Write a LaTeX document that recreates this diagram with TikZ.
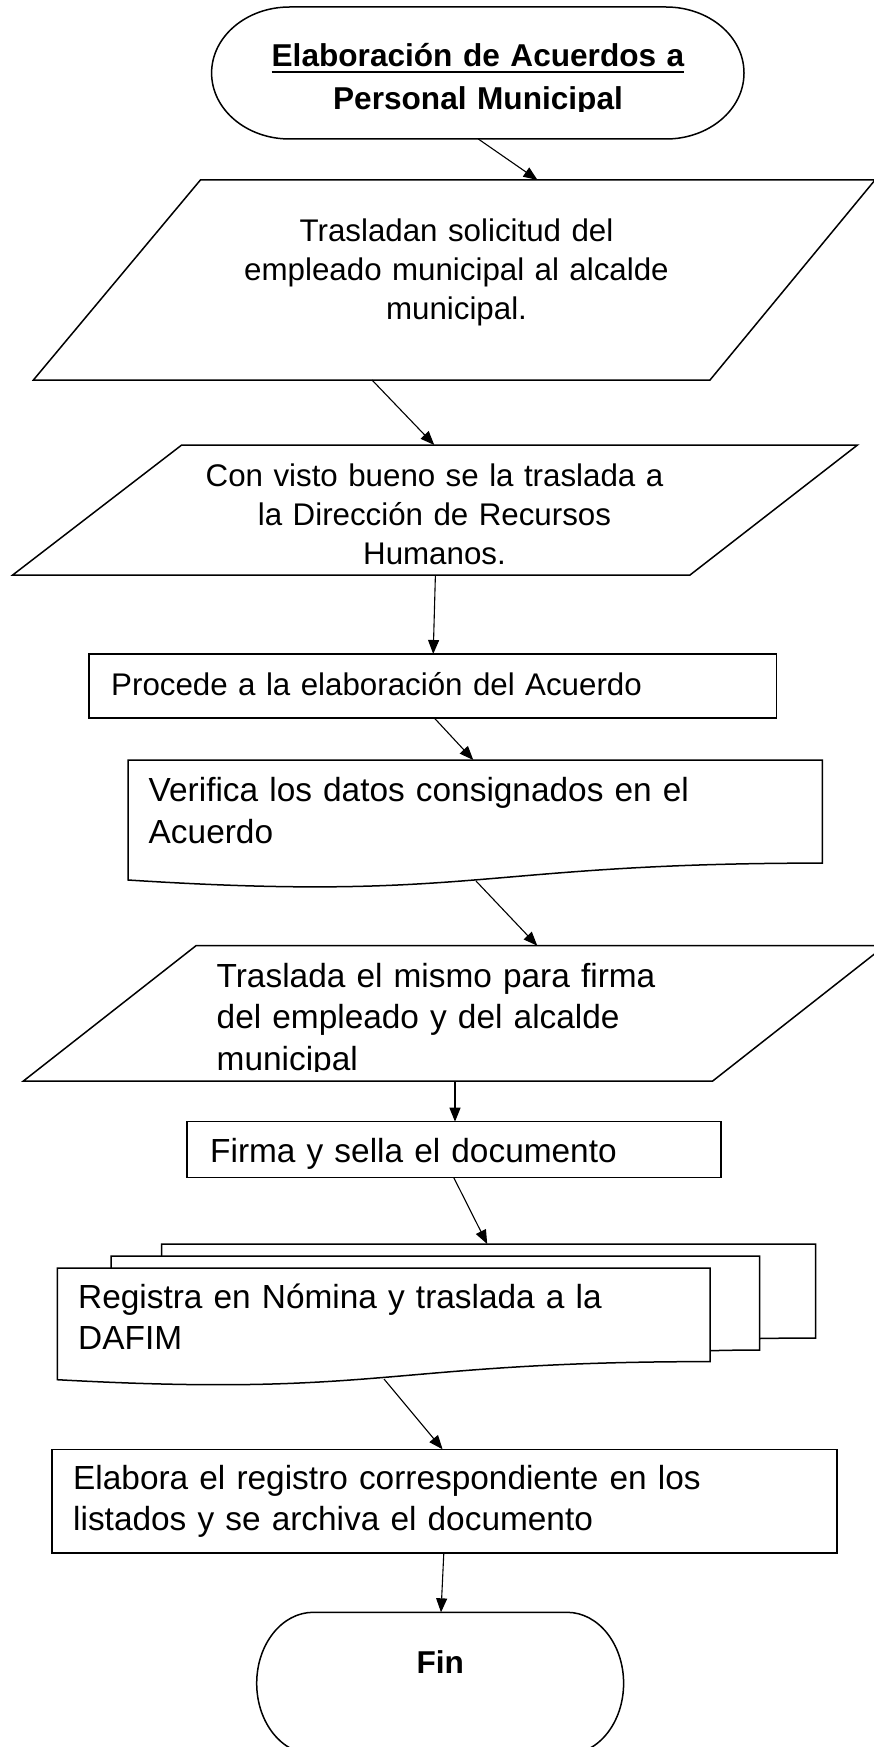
\documentclass[tikz,border=0pt]{standalone}
\usepackage{fontspec}
\setmainfont{Liberation Sans}
\usetikzlibrary{arrows.meta}
\newcommand{\myuline}[1]{\setbox0\hbox{#1}\rlap{\rule[-6.5pt]{\wd0}{2.2pt}}\box0}
\begin{document}
\begin{tikzpicture}[x=1pt,y=-1pt,
  outline/.style={draw=black, line width=1.5pt, line join=miter},
  conn/.style={draw=black, line width=1.1pt, -{Triangle[length=14pt,width=11pt]}},
  ctext/.style={inner sep=0pt, text width=700pt, align=center, anchor=base},
  ltext/.style={inner sep=0pt, text width=760pt, align=left, anchor=base west},
  fa/.style={font=\fontsize{31.3}{39}\selectfont},
  fb/.style={font=\fontsize{33.4}{41.5}\selectfont},
  fbold/.style={font=\bfseries\fontsize{31.6}{43.3}\selectfont}]
\useasboundingbox (0,0) rectangle (873,1747);

% ---------- shapes ----------
% start terminator
\draw[outline] (289.6,7) -- (666,7)
  .. controls (709.1,7) and (744,36.5) .. (744,73)
  .. controls (744,109.5) and (709.1,139) .. (666,139)
  -- (289.6,139)
  .. controls (246.5,139) and (211.6,109.5) .. (211.6,73)
  .. controls (211.6,36.5) and (246.5,7) .. cycle;
% parallelogram 1
\draw[outline] (200.4,180) -- (875,180) -- (710,380) -- (33.4,380) -- cycle;
% parallelogram 2
\draw[outline] (181.7,445) -- (857.5,445) -- (690,575) -- (12.7,575) -- cycle;
% rectangle 1
\draw[outline] (89,654) rectangle (776.7,718);
% document 1
\draw[outline] (128,760) -- (822.4,760) -- (822.4,863.1)
  .. controls (475.2,863.1) and (475.2,902.3) .. (128,880) -- cycle;
% parallelogram 3
\draw[outline] (196,945.7) -- (885,945.7) -- (712.7,1081) -- (23.4,1081) -- cycle;
% rectangle 2
\draw[outline] (187,1121.7) rectangle (721,1177.7);
% multi-document
\draw[outline] (161.7,1256) -- (161.7,1244) -- (815.7,1244) -- (815.7,1338)
  .. controls (787.6,1338) and (759.5,1338.5) .. (759.5,1338.5);
\draw[outline] (111.1,1268) -- (111.1,1256) -- (759.5,1256) -- (759.5,1350)
  .. controls (734.8,1350) and (710.2,1350.7) .. (710.2,1350.7);
\draw[outline] (57.3,1268) -- (710.2,1268) -- (710.2,1361.6)
  .. controls (383.8,1361.6) and (383.8,1397.7) .. (57.3,1379.7) -- cycle;
% rectangle 3
\draw[outline] (51.8,1449.3) rectangle (836.9,1553);
% end terminator
\draw[outline] (313.3,1612.3) -- (567,1612.3)
  .. controls (598.3,1612.3) and (623.6,1644.1) .. (623.6,1683.3)
  .. controls (623.6,1722.5) and (598.3,1754.3) .. (567,1754.3)
  -- (313.3,1754.3)
  .. controls (282,1754.3) and (256.7,1722.5) .. (256.7,1683.3)
  .. controls (256.7,1644.1) and (282,1612.3) .. cycle;

% ---------- texts ----------
\begin{scope}
  \clip (150,0) rectangle (800,112);
  \node[ctext, fbold] (inicio) at (478,66.7) {\myuline{Elaboración de Acuerdos a}\\Personal Municipal};
\end{scope}
\node[ctext, fa] (traslado) at (456.5,241) {Trasladan solicitud del\\empleado municipal al alcalde\\municipal.};
\node[ctext, fa] (visto) at (434.5,486) {Con visto bueno se la traslada a\\la Dirección de Recursos\\Humanos.};
\node[ltext, fa] (procede) at (111,695) {Procede a la elaboración del Acuerdo};
\node[ltext, fb] (verifica) at (148.5,801.5) {Verifica los datos consignados en el\\Acuerdo};
\begin{scope}
  \clip (150,940) rectangle (870,1071);
  \node[ltext, fb] (firma) at (216.5,987) {Traslada el mismo para firma\\del empleado y del alcalde\\municipal};
\end{scope}
\node[ltext, fb] (sella) at (210,1162.7) {Firma y sella el documento};
\node[ltext, fb] (registra) at (78,1308) {Registra en Nómina y traslada a la\\DAFIM};
\node[ltext, fb] (elabora) at (73,1489.3) {Elabora el registro correspondiente en los\\listados y se archiva el documento};
\node[ctext, fbold] (fin) at (440.2,1673.3) {Fin};

% ---------- connection points ----------
\coordinate (a1s) at (478.3,139);   \coordinate (a1e) at (537.5,180);
\coordinate (a2s) at (372,380);     \coordinate (a2e) at (434.3,445);
\coordinate (a3s) at (435.4,575);   \coordinate (a3e) at (433.2,654);
\coordinate (a4s) at (434.3,718);   \coordinate (a4e) at (473.3,760);
\coordinate (a5s) at (476,881);     \coordinate (a5e) at (537.3,945.7);
\coordinate (a6s) at (455,1081);    \coordinate (a6e) at (455,1121.7);
\coordinate (a7s) at (453.8,1177.7);\coordinate (a7e) at (487.2,1244);
\coordinate (a8s) at (384,1379);    \coordinate (a8e) at (442.6,1449.3);
\coordinate (a9s) at (443.8,1553);  \coordinate (a9e) at (441,1612.3);

\draw[conn] (a1s) -- (a1e);
\draw[conn] (a2s) -- (a2e);
\draw[conn] (a3s) -- (a3e);
\draw[conn] (a4s) -- (a4e);
\draw[conn] (a5s) -- (a5e);
\draw[conn] (a6s) -- (a6e);
\draw[conn] (a7s) -- (a7e);
\draw[conn] (a8s) -- (a8e);
\draw[conn] (a9s) -- (a9e);
\end{tikzpicture}
\end{document}
